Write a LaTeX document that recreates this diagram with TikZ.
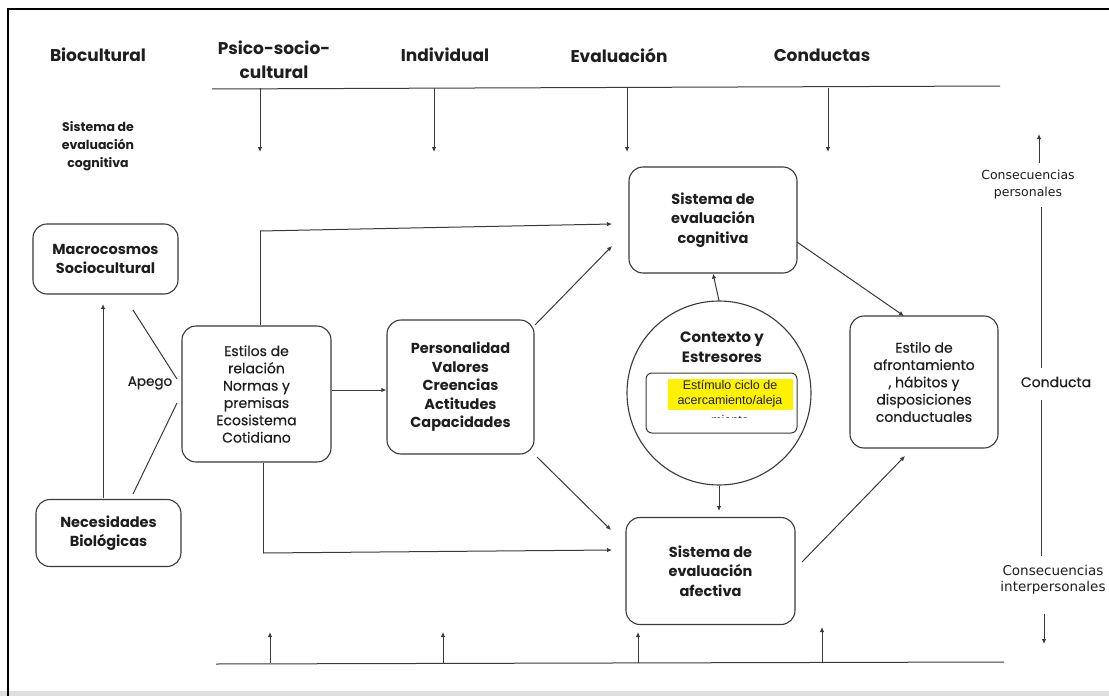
\documentclass[tikz,border=0pt]{standalone}
\usepackage{fontspec}
\setmainfont{Poppins}
\newfontfamily\medf{Poppins}[FakeBold=0.5]
\newfontfamily\arialf{Liberation Sans}
\newfontfamily\dejaf{DejaVu Sans}
\usetikzlibrary{arrows.meta}
\definecolor{lg}{HTML}{3A3A3A}
\definecolor{tx}{HTML}{1E1E1E}
\definecolor{hl}{HTML}{FFF200}
\tikzset{
  box/.style={draw=lg, line width=1.1pt, rounded corners=14pt, align=center, text=tx, inner sep=2pt},
  bt/.style={font=\bfseries\fontsize{14.5}{18.5}\selectfont},
  rt/.style={font=\medf\fontsize{14}{17.3}\selectfont},
  hd/.style={font=\bfseries\fontsize{17}{24}\selectfont, text=tx, align=center},
  ln/.style={draw=lg, line width=1pt},
  arr/.style={ln, -{Latex[length=5pt,width=4.5pt]}},
  lab/.style={text=tx, align=center},
}
\begin{document}
\begin{tikzpicture}[x=1pt,y=-1pt]
\useasboundingbox (0,0) rectangle (1109,696);
\fill[white] (0,0) rectangle (1109,696);
% frame
\fill[black!13] (0,691) rectangle (1109,696);
\draw[black, line width=2pt] (8,696) -- (8,9) -- (1109,9);

% headers
\node[hd] (hbio) at (98,55) {Biocultural};
\node[hd] (hpsi) at (274,60) {Psico-socio-\\cultural};
\node[hd] (hind) at (445,55) {Individual};
\node[hd] (heva) at (619,55) {Evaluación};
\node[hd] (hcon) at (822,55) {Conductas};

% top and bottom lines
\coordinate (tl) at (212,89);
\coordinate (tr) at (1000,86);
\draw[ln] (tl) -- (tr);
\foreach \x/\n in {260/a,434/b,627/c,828/d}{
  \coordinate (t\n) at (\x,88);
  \coordinate (te\n) at (\x,152);
  \draw[arr] (t\n) -- (te\n);
}
\coordinate (bl) at (216,664);
\coordinate (br) at (1004,662);
\draw[ln] (bl) -- (br);
\foreach \x/\n/\e in {270/a/632,443/b/632,638/c/632,822/d/627}{
  \coordinate (b\n) at (\x,663);
  \coordinate (be\n) at (\x,\e);
  \draw[arr] (b\n) -- (be\n);
}

% left column
\node[lab, font=\bfseries\fontsize{12.5}{18}\selectfont] (sisl) at (98,146) {Sistema de\\evaluación\\cognitiva};
\node[box, bt, minimum width=145pt, minimum height=70pt] (macro) at (105.5,259) {Macrocosmos\\Sociocultural};
\node[box, bt, minimum width=145pt, minimum height=67pt] (nec) at (108.5,533) {Necesidades\\Biológicas};
\draw[arr] (103,498) -- (103,304);
\node[lab, font=\medf\fontsize{13.5}{15}\selectfont] (apego) at (150,383) {Apego};
\draw[ln] (133,310) -- (177,379);
\draw[ln] (177,403) -- (133,494);

% Estilos
\node[box, rt, minimum width=149pt, minimum height=136pt] (est) at (256.5,394) {Estilos de\\relación\\Normas y\\premisas\\Ecosistema\\Cotidiano};
% Personalidad
\node[box, bt, minimum width=147pt, minimum height=134pt] (per) at (460.5,387) {Personalidad\\Valores\\Creencias\\Actitudes\\Capacidades};
\draw[arr] (est.east |- 0,390) -- (per.west |- 0,390);

% Sistema cognitiva
\node[box, bt, font=\bfseries\fontsize{14.5}{19.5}\selectfont, minimum width=168pt, minimum height=106pt] (cog) at (713,220) {Sistema de\\evaluación\\cognitiva};
% Sistema afectiva
\node[box, bt, font=\bfseries\fontsize{14.5}{19.5}\selectfont, minimum width=169pt, minimum height=107pt] (afe) at (710.5,571) {Sistema de\\evaluación\\afectiva};
% Afrontamiento
\node[box, rt, minimum width=148pt, minimum height=132pt] (afr) at (924,382) {Estilo de\\afrontamiento\\, hábitos y\\disposiciones\\conductuales};

% circle
\node[circle, draw=lg, line width=1.1pt, minimum size=184pt, inner sep=0pt] (ctx) at (719,393) {};
\node[lab, font=\bfseries\fontsize{15}{19.5}\selectfont] (ctxt) at (722,347) {Contexto y\\Estresores};
\fill[hl] (668,379) rectangle (793,410);
\node[draw=lg, line width=1pt, rounded corners=6pt, minimum width=151pt, minimum height=60pt, inner sep=0pt] (stim) at (721.5,403) {};
\node[lab, font=\arialf\fontsize{12.5}{15}\selectfont] (stimt) at (730,394) {Estímulo ciclo de\\acercamiento/aleja};
\begin{scope}
  \clip (660,410) rectangle (800,417);
  \node[lab, font=\arialf\fontsize{12.5}{15}\selectfont] (stimc) at (730,420) {miento};
\end{scope}

% connectors
\draw[ln] (est.north -| 260,0) -- (260,231) coordinate (ca);
\draw[arr] (ca) -- (612,224);
\draw[ln] (est.south -| 263,0) -- (263,553) coordinate (cb);
\draw[arr] (cb) -- (612,550);
\draw[arr] (535,325) -- (612,246);
\draw[arr] (537,457) -- (611,530);
\draw[arr] (ctx.north) -- (cog.south);
\draw[arr] (ctx.south) -- (719,511);
\draw[arr] (797,242) -- (904,316);
\draw[arr] (802,562) -- (905,456);

% right column
\draw[arr] (1039,163) -- (1039,134);
\node[lab, font=\dejaf\fontsize{12.5}{17}\selectfont] (cper) at (1028,185) {Consecuencias\\personales};
\node[lab, font=\medf\fontsize{14}{16}\selectfont] (cond) at (1056,382) {Conducta};
\draw[ln] (1041,207) -- (1041,368);
\draw[ln] (1041,400) -- (1041,556);
\node[lab, font=\dejaf\fontsize{13.5}{16.5}\selectfont] (cint) at (1053,580) {Consecuencias\\interpersonales};
\draw[arr] (1044,614) -- (1044,644);
\end{tikzpicture}
\end{document}
